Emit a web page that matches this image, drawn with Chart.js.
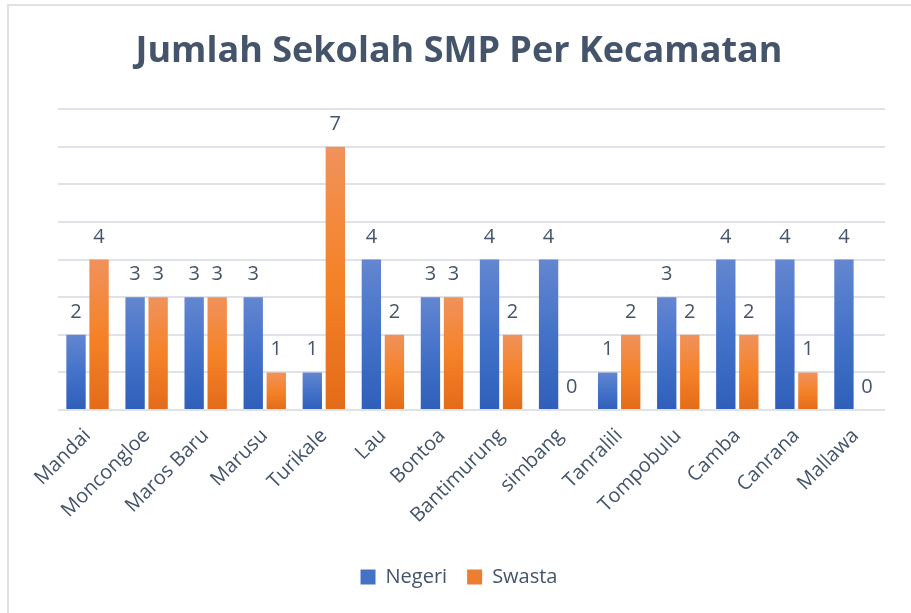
<!DOCTYPE html>
<html>
<head>
<meta charset="utf-8">
<script src="https://cdn.jsdelivr.net/npm/chart.js@4/dist/chart.umd.min.js"></script>
<style>
    html, body { margin: 0; padding: 0; background: #fff; }
    #frame {
        position: absolute; left: 7px; top: 4px; width: 910px; height: 615px;
        border-left: 2px solid #dde2e9; border-top: 2px solid #dde2e9;
    }
    #wrap { position: absolute; left: 0; top: 0; width: 911px; height: 613px; }
</style>
</head>
<body>
<div id="frame"></div>
<div id="wrap"><canvas id="smpChart" width="911" height="613"></canvas></div>
<script>
const kecamatan = ['Mandai', 'Moncongloe', 'Maros Baru', 'Marusu', 'Turikale', 'Lau', 'Bontoa',
    'Bantimurung', 'simbang', 'Tanralili', 'Tompobulu', 'Camba', 'Canrana', 'Mallawa'];
const negeri = [2, 3, 3, 3, 1, 4, 3, 4, 4, 1, 3, 4, 4, 4];
const swasta = [4, 3, 3, 1, 7, 2, 3, 2, 0, 2, 2, 2, 1, 0];

const textColor = '#44546a';
const fontFamily = "'Open Sans', 'DejaVu Sans', sans-serif";

// vertical gradient per bar, light at the top, darker at the base
function barGradient(top, mid, bottom, solid) {
    return (ctx) => {
        if (ctx.type !== 'data') return solid;
        const chart = ctx.chart;
        if (!chart.chartArea) return solid;
        const y = chart.scales.y;
        const yTop = y.getPixelForValue(ctx.raw);
        const yBase = y.getPixelForValue(0);
        if (yBase - yTop < 1) return solid;
        const g = chart.ctx.createLinearGradient(0, yTop, 0, yBase);
        g.addColorStop(0, top);
        g.addColorStop(0.5, mid);
        g.addColorStop(1, bottom);
        return g;
    };
}

// value labels above every bar (no datalabels plugin available offline)
const valueLabels = {
    id: 'valueLabels',
    afterDatasetsDraw(chart) {
        const c = chart.ctx;
        c.save();
        c.font = '20px ' + fontFamily;
        c.fillStyle = textColor;
        c.textAlign = 'center';
        c.textBaseline = 'alphabetic';
        chart.data.datasets.forEach((ds, i) => {
            chart.getDatasetMeta(i).data.forEach((bar, j) => {
                c.fillText(String(ds.data[j]), bar.x, bar.y - 17);
            });
        });
        c.restore();
    }
};

new Chart(document.getElementById('smpChart'), {
    type: 'bar',
    data: {
        labels: kecamatan,
        datasets: [{
            label: 'Negeri',
            data: negeri,
            backgroundColor: barGradient('#6386d0', '#4472c9', '#2f5fba', '#4472c4'),
            barPercentage: 0.84,
            categoryPercentage: 0.78
        }, {
            label: 'Swasta',
            data: swasta,
            backgroundColor: barGradient('#f0925c', '#f58228', '#e36b19', '#ed7d31'),
            barPercentage: 0.84,
            categoryPercentage: 0.78
        }]
    },
    options: {
        responsive: false,
        animation: false,
        layout: {
            padding: { left: 33, right: 26, top: 0, bottom: 16 }
        },
        plugins: {
            title: {
                display: true,
                text: 'Jumlah Sekolah SMP Per Kecamatan',
                color: textColor,
                font: { family: fontFamily, size: 36, weight: 'bold' },
                padding: { top: 30, bottom: 36 }
            },
            legend: {
                position: 'bottom',
                labels: {
                    color: textColor,
                    font: { family: fontFamily, size: 20 },
                    boxWidth: 15,
                    boxHeight: 15,
                    padding: 20,
                    generateLabels: (chart) => chart.data.datasets.map((ds, i) => ({
                        text: ds.label,
                        fillStyle: i === 0 ? '#4472c4' : '#ed7d31',
                        strokeStyle: 'transparent',
                        lineWidth: 0,
                        fontColor: textColor,
                        datasetIndex: i
                    }))
                }
            },
            tooltip: { enabled: false }
        },
        scales: {
            x: {
                grid: { display: false },
                border: { display: false },
                ticks: {
                    color: textColor,
                    font: { family: fontFamily, size: 20 },
                    minRotation: 45,
                    maxRotation: 45,
                    padding: 6
                },
                afterFit: (scale) => { scale.height = 137; }
            },
            y: {
                min: 0,
                max: 8,
                grid: { color: '#dfe3e9', lineWidth: 2, drawTicks: false },
                border: { display: false },
                ticks: { display: false, stepSize: 1 },
                afterFit: (scale) => { scale.width = 25; }
            }
        }
    },
    plugins: [valueLabels]
});
</script>
</body>
</html>
